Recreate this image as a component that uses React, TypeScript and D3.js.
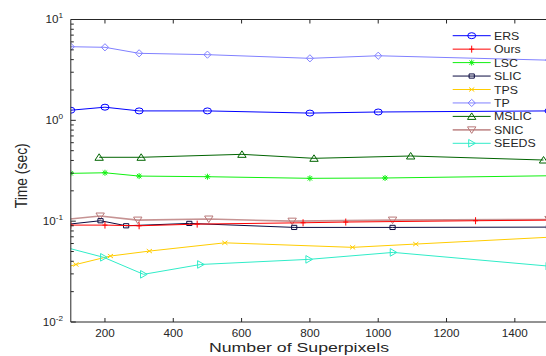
import React from 'react';
import * as d3 from 'd3';

const W = 546, H = 356;
const X0 = 70.8, X1 = 549, Y0 = 19.5, Y1 = 322;

const xTicks = [200, 400, 600, 800, 1000, 1200, 1400];
const yTickExps = [1, 0, -1, -2];

const seriesNames = ['ERS', 'Ours', 'LSC', 'SLIC', 'TPS', 'TP', 'MSLIC', 'SNIC', 'SEEDS'];

const ersX = [100, 200, 300, 500, 800, 1000, 1500];
const ersY = [1.26, 1.35, 1.24, 1.24, 1.18, 1.21, 1.24];
const oursX = [100, 200, 300, 470, 780, 905, 1285, 1500];
const oursY = [0.0914, 0.0914, 0.09, 0.0935, 0.0964, 0.098, 0.101, 0.1025];
const lscX = [100, 200, 300, 500, 800, 1020, 1500];
const lscY = [0.298, 0.302, 0.28, 0.276, 0.266, 0.268, 0.282];
const slicX = [80, 187, 262, 447, 754, 1042, 1500];
const slicY = [0.0923, 0.101, 0.09, 0.095, 0.0867, 0.0867, 0.0873];
const tpsX = [80, 115, 216, 330, 551, 925, 1110, 1500];
const tpsY = [0.0345, 0.0372, 0.0451, 0.0505, 0.061, 0.055, 0.0593, 0.0693];
const tpX = [100, 200, 300, 500, 800, 1000, 1500];
const tpY = [5.37, 5.3, 4.62, 4.48, 4.12, 4.37, 3.95];
const mslicX = [183, 306, 601, 812, 1095, 1484];
const mslicY = [0.43, 0.43, 0.46, 0.42, 0.443, 0.404];
const snicX = [80, 186, 296, 504, 748, 1042, 1500];
const snicY = [0.1035, 0.1125, 0.1025, 0.105, 0.1, 0.1025, 0.104];
const seedsX = [80, 196, 313, 480, 797, 1044, 1500];
const seedsY = [0.0555, 0.0438, 0.0297, 0.0372, 0.0418, 0.049, 0.0358];

type Marker = 'circle' | 'plus' | 'star' | 'square' | 'x' | 'diamond' | 'tri-up' | 'tri-down' | 'tri-right';
interface Series { name: string; xs: number[]; ys: number[]; color: string; marker: Marker; width: number; opacity: number; }

const series: Series[] = [
  { name: 'ERS', xs: ersX, ys: ersY, color: '#0000ff', marker: 'circle', width: 1, opacity: 1 },
  { name: 'Ours', xs: oursX, ys: oursY, color: '#ff0000', marker: 'plus', width: 1, opacity: 1 },
  { name: 'LSC', xs: lscX, ys: lscY, color: '#10f010', marker: 'star', width: 1, opacity: 1 },
  { name: 'SLIC', xs: slicX, ys: slicY, color: '#0b0b40', marker: 'square', width: 1, opacity: 1 },
  { name: 'TPS', xs: tpsX, ys: tpsY, color: '#ffcc00', marker: 'x', width: 1, opacity: 1 },
  { name: 'TP', xs: tpX, ys: tpY, color: '#8080ff', marker: 'diamond', width: 1, opacity: 1 },
  { name: 'MSLIC', xs: mslicX, ys: mslicY, color: '#006400', marker: 'tri-up', width: 1, opacity: 1 },
  { name: 'SNIC', xs: snicX, ys: snicY, color: '#b87878', marker: 'tri-down', width: 1.6, opacity: 0.8 },
  { name: 'SEEDS', xs: seedsX, ys: seedsY, color: '#30ecc8', marker: 'tri-right', width: 1, opacity: 1 },
];

const drawOrder = ['TP', 'ERS', 'MSLIC', 'LSC', 'SNIC', 'SLIC', 'Ours', 'TPS', 'SEEDS'];

function markerPath(m: Marker): string {
  switch (m) {
    case 'circle': return 'M-4,0A4,3 0 1,0 4,0A4,3 0 1,0 -4,0Z';
    case 'plus': return 'M-2.5,0H2.5M0,-3.5V3.5';
    case 'star': return 'M-3,0H3M0,-3V3M-2.2,-2.2L2.2,2.2M-2.2,2.2L2.2,-2.2';
    case 'square': return 'M-2.6,-2.1H2.6V2.1H-2.6Z';
    case 'x': return 'M-2.6,-2L2.6,2M-2.6,2L2.6,-2';
    case 'diamond': return 'M0,-3.6L3.6,0L0,3.6L-3.6,0Z';
    case 'tri-up': return 'M0,-3.5L4.2,3L-4.2,3Z';
    case 'tri-down': return 'M0,3.5L4.2,-3L-4.2,-3Z';
    case 'tri-right': return 'M3.6,0L-3,-3.8L-3,3.8Z';
  }
}

export default function App() {
  const x = d3.scaleLinear().domain([100, 1500]).range([X0, X1]);
  const y = d3.scaleLog().domain([0.01, 10]).range([Y1, Y0]);
  const axisColor = '#262626';
  const font = 'Liberation Sans, Arial, Helvetica, sans-serif';

  const minorTicks: number[] = [];
  for (let e = -2; e < 1; e++) for (let k = 2; k <= 9; k++) minorTicks.push(k * Math.pow(10, e));

  const line = d3.line<[number, number]>().x(d => x(d[0])).y(d => y(d[1]));
  const byName = new Map(series.map(s => [s.name, s]));

  return (
    <svg width={W} height={H} style={{ position: 'absolute', left: 0, top: 0, background: '#fff' }} fontFamily={font}>
      <defs>
        <clipPath id="plotclip">
          <rect x={X0} y={Y0} width={X1 - X0} height={Y1 - Y0} />
        </clipPath>
      </defs>
      <rect x={0} y={0} width={W} height={H} fill="#fff" />
      <g clipPath="url(#plotclip)">
        {drawOrder.map(n => {
          const s = byName.get(n)!;
          const pts: [number, number][] = s.xs.map((v, i) => [v, s.ys[i]]);
          return (
            <g key={n}>
              <path d={line(pts) || ''} fill="none" stroke={s.color} strokeWidth={s.width} strokeOpacity={s.opacity} />
              {pts.map((p, i) => (
                <path key={i} d={markerPath(s.marker)} transform={`translate(${x(p[0])},${y(p[1])})`}
                  fill="none" stroke={s.color} strokeWidth={1} />
              ))}
            </g>
          );
        })}
      </g>
      {/* axes */}
      <g stroke={axisColor} strokeWidth={1} fill="none">
        <line x1={X0} x2={X1} y1={Y1} y2={Y1} />
        <line x1={X0} x2={X1} y1={Y0} y2={Y0} />
        <line x1={X0} x2={X0} y1={Y0} y2={Y1} />
        <line x1={X1} x2={X1} y1={Y0} y2={Y1} />
        {xTicks.map(t => (
          <g key={t}>
            <line x1={x(t)} x2={x(t)} y1={Y1} y2={Y1 - 4} />
            <line x1={x(t)} x2={x(t)} y1={Y0} y2={Y0 + 4} />
          </g>
        ))}
        {yTickExps.map(e => (
          <line key={e} x1={X0} x2={X0 + 5} y1={y(Math.pow(10, e))} y2={y(Math.pow(10, e))} />
        ))}
        {minorTicks.map((t, i) => (
          <line key={i} x1={X0} x2={X0 + 3} y1={y(t)} y2={y(t)} />
        ))}
      </g>
      {xTicks.map(t => (
        <text key={t} transform={`translate(${x(t)},336.5) scale(1.17,1)`} textAnchor="middle"
          fontSize={10} fill={axisColor}>{t}</text>
      ))}
      {yTickExps.map(e => (
        <text key={e} transform={`translate(63,${y(Math.pow(10, e)) + 3.6}) scale(1.17,1)`} textAnchor="end"
          fontSize={10} fill={axisColor}>
          10<tspan dy={-5} fontSize={7}>{e}</tspan>
        </text>
      ))}
      <text x={299} y={352} textAnchor="middle" fontSize={13.5} fill={axisColor}
        textLength={180} lengthAdjust="spacingAndGlyphs">Number of Superpixels</text>
      <text transform="translate(26.5,175.8) scale(1.2,1) rotate(-90)" textAnchor="middle" fontSize={13.5} fill={axisColor}
        textLength={65} lengthAdjust="spacingAndGlyphs">Time (sec)</text>
      {/* legend */}
      {seriesNames.map((n, i) => {
        const s = byName.get(n)!;
        const ly = 35.7 + i * 13.45;
        return (
          <g key={n}>
            <line x1={452.7} x2={490.7} y1={ly} y2={ly} stroke={s.color} strokeWidth={s.width} strokeOpacity={s.opacity} />
            <path d={markerPath(s.marker)} transform={`translate(471.7,${ly})`} fill="none" stroke={s.color} strokeWidth={1} />
            <text transform={`translate(494,${ly + 4}) scale(1.12,1)`} fontSize={11} fill={axisColor}>{n}</text>
          </g>
        );
      })}
    </svg>
  );
}
